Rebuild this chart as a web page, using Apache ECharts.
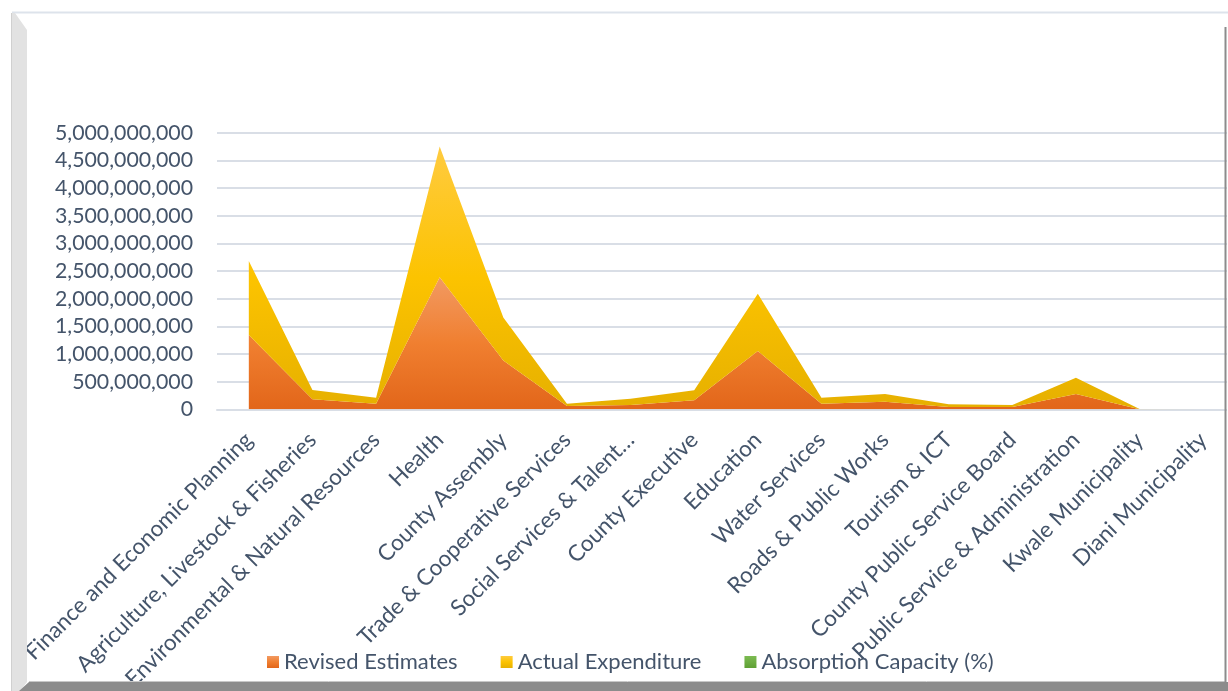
<!DOCTYPE html>
<html>
<head>
<meta charset="utf-8">
<script src="https://cdn.jsdelivr.net/npm/echarts@6/dist/echarts.min.js"></script>
<style>
  html, body { margin: 0; padding: 0; background: #ffffff; }
  #chart { width: 1228px; height: 691px; }
</style>
</head>
<body>
<div id="chart"></div>
<script>
const categories = [
  'Finance and Economic Planning',
  'Agriculture, Livestock & Fisheries',
  'Environmental & Natural Resources',
  'Health',
  'County Assembly',
  'Trade & Cooperative Services',
  'Social Services & Talent…',
  'County Executive',
  'Education',
  'Water Services',
  'Roads & Public Works',
  'Tourism & ICT',
  'County Public Service Board',
  'Public Service & Administration',
  'Kwale Municipality',
  'Diani Municipality'
];
const revisedEstimates = [1343000000, 180000000, 100000000, 2386000000, 880000000, 60000000, 78000000, 163000000, 1054000000, 100000000, 137000000, 40000000, 40000000, 277000000, 3000000, 0];
const actualExpenditure = [1337000000, 170000000, 110000000, 2364000000, 780000000, 40000000, 112000000, 180000000, 1036000000, 110000000, 140000000, 50000000, 38000000, 293000000, 2000000, 0];
const absorptionCapacity = [99, 94, 110, 99, 89, 67, 144, 110, 98, 110, 102, 125, 95, 106, 67, 0];
const yTicks = { min: 0, max: 5000000000, interval: 500000000 };

const textColor = '#44546A';
const fontFam = 'Lato, "Open Sans", sans-serif';

const chart = echarts.init(document.getElementById('chart'), null, { renderer: 'canvas' });

const orangeGrad = new echarts.graphic.LinearGradient(0, 0, 0, 1, [
  { offset: 0, color: '#F29A62' },
  { offset: 0.5, color: '#F07F30' },
  { offset: 1, color: '#E2661A' }
]);
const yellowGrad = new echarts.graphic.LinearGradient(0, 0, 0, 1, [
  { offset: 0, color: '#FFCB40' },
  { offset: 0.5, color: '#FCC300' },
  { offset: 1, color: '#E6B000' }
]);
const greenGrad = new echarts.graphic.LinearGradient(0, 0, 0, 1, [
  { offset: 0, color: '#7CBB52' },
  { offset: 1, color: '#5FA034' }
]);

chart.setOption({
  animation: false,
  textStyle: { fontFamily: fontFam },
  grid: { left: 217, right: -7, top: 132.7, bottom: 281.7, containLabel: false, outerBoundsMode: 'none' },
  legend: {
    left: 262, top: 646,
    icon: 'rect', itemWidth: 12, itemHeight: 12, itemGap: 43,
    textStyle: { color: textColor, fontSize: 22, fontFamily: fontFam },
    data: ['Revised Estimates', 'Actual Expenditure', 'Absorption Capacity (%)']
  },
  xAxis: {
    type: 'category',
    data: categories,
    boundaryGap: true,
    axisLine: { show: true, lineStyle: { color: '#D9DEE6', width: 2 } },
    axisTick: { show: false },
    splitLine: { show: false },
    axisLabel: {
      interval: 0, rotate: 45, margin: 27,
      color: textColor, fontSize: 22.5, fontFamily: fontFam
    }
  },
  yAxis: {
    type: 'value',
    min: yTicks.min, max: yTicks.max, interval: yTicks.interval,
    axisLine: { show: false },
    axisTick: { show: false },
    splitLine: { lineStyle: { color: '#D9DEE6', width: 2 } },
    axisLabel: {
      margin: 24, color: textColor, fontSize: 21.3, fontFamily: fontFam,
      formatter: v => v.toLocaleString('en-US')
    }
  },
  series: [
    {
      name: 'Revised Estimates', type: 'line', stack: 'total',
      data: revisedEstimates, showSymbol: false, symbol: 'none',
      lineStyle: { width: 0 },
      itemStyle: { color: orangeGrad },
      areaStyle: { color: orangeGrad, opacity: 1 }
    },
    {
      name: 'Actual Expenditure', type: 'line', stack: 'total',
      data: actualExpenditure, showSymbol: false, symbol: 'none',
      lineStyle: { width: 0 },
      itemStyle: { color: yellowGrad },
      areaStyle: { color: yellowGrad, opacity: 1 }
    },
    {
      name: 'Absorption Capacity (%)', type: 'line', stack: 'total',
      data: absorptionCapacity, showSymbol: false, symbol: 'none',
      lineStyle: { width: 0 },
      itemStyle: { color: greenGrad },
      areaStyle: { color: greenGrad, opacity: 1 }
    }
  ],
  graphic: [
    { type: 'line', z: 100, shape: { x1: 12, y1: 12.5, x2: 1228, y2: 12.5 }, style: { stroke: '#DDE3EB', lineWidth: 2 } },
    { type: 'polygon', z: 100, shape: { points: [[11, 13], [15, 13], [27, 30], [27, 682], [20, 691], [11, 691]] }, style: { fill: '#E2E2E2' } },
    { type: 'line', z: 101, shape: { x1: 11.5, y1: 13, x2: 11.5, y2: 691 }, style: { stroke: '#D0D0D0', lineWidth: 1 } },
    { type: 'polygon', z: 100, shape: { points: [[19, 691], [29, 682], [1228, 682], [1228, 691]] }, style: { fill: '#8C8C8C' } },
    { type: 'line', z: 100, shape: { x1: 29, y1: 681.5, x2: 1226, y2: 681.5 }, style: { stroke: '#C8C8C8', lineWidth: 1 } },
    { type: 'line', z: 100, shape: { x1: 1225.5, y1: 27, x2: 1225.5, y2: 682 }, style: { stroke: '#8C8C8C', lineWidth: 2 } },
    { type: 'rect', z: 99, shape: { x: 1227, y: 0, width: 2, height: 691 }, style: { fill: '#FFFFFF' } }
  ]
});
</script>
</body>
</html>
